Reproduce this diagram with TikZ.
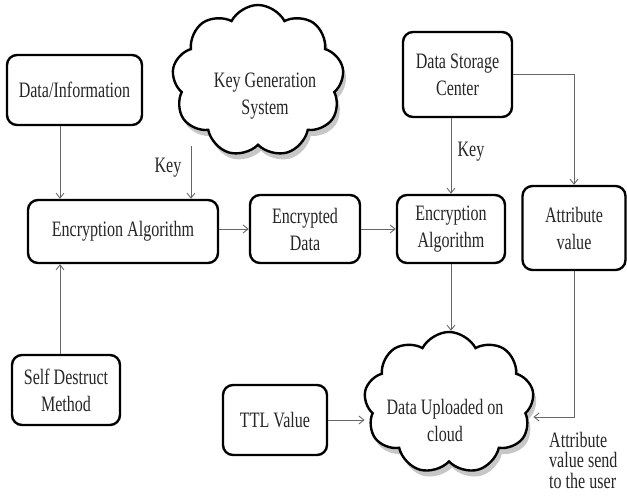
\documentclass[tikz,border=0pt]{standalone}
\usepackage{fontspec}
\setmainfont[FakeStretch=0.73]{Liberation Serif}
\usetikzlibrary{shapes.symbols,shadows,arrows.meta}
\begin{document}
\begin{tikzpicture}[x=1pt,y=-1pt,
  txt/.style={text=black!85, align=center, inner sep=0pt,
    font=\fontsize{22}{27}\selectfont},
  box/.style={txt, draw=black, line width=2.4pt, rounded corners=10pt, fill=white},
  puff/.style={cloud, cloud puffs=9, cloud puff arc=125, cloud ignores aspect,
    draw=black, line width=2.4pt, fill=white,
    drop shadow={shadow xshift=3pt, shadow yshift=-6pt, fill=black!22, opacity=1}},
  link/.style={draw=black!60, line width=0.9pt, -{Straight Barb[length=5pt,width=8pt]}},
  note/.style={txt, align=left, font=\fontsize{22}{20.5}\selectfont}
]
\useasboundingbox (0,0) rectangle (627,500);

% boxes
\node[box, minimum width=135pt, minimum height=70pt] (info) at (74.5,90) {Data/Information};
\node[box, minimum width=190pt, minimum height=63pt] (enc) at (123,231.5) {Encryption Algorithm};
\node[box, minimum width=108pt, minimum height=70pt] (self) at (66,390) {Self Destruct\\Method};
\node[box, minimum width=110pt, minimum height=68pt] (encdata) at (305,229) {Encrypted\\Data};
\node[box, minimum width=108pt, minimum height=68pt] (enc2) at (451,229) {Encryption\\Algorithm};
\node[box, minimum width=109pt, minimum height=85pt] (store) at (457.5,74.5) {Data Storage\\Center};
\node[box, minimum width=103pt, minimum height=84pt] (attr) at (574,228) {Attribute\\value};
\node[box, minimum width=104pt, minimum height=70pt] (ttl) at (275,420) {TTL Value};

% clouds
\node[puff, minimum width=172pt, minimum height=152pt] (keygen) at (258,81) {};
\node[txt] (keygentext) at (265,96) {Key Generation\\System};
\node[puff, minimum width=170pt, minimum height=142pt] (upload) at (449,403) {};
\node[txt] (uploadtext) at (445,420) {Data Uploaded on\\cloud};

% labels
\node[txt] (key1) at (168,168) {Key};
\node[txt] (key2) at (471,152) {Key};
\node[note, anchor=north west] (sendnote) at (549,432) {Attribute\\value send\\to the user};

% helper coordinates for the vertical links
\coordinate (leftx) at (60,0);
\coordinate (keyx) at (191,0);
\coordinate (attrturn) at (574,417);

% connectors
\draw[link] (info.south -| leftx) -- (enc.north -| leftx);
\draw[link] (self.north -| leftx) -- (enc.south -| leftx);
\draw[link] (keygen.south -| keyx) -- (enc.north -| keyx);
\draw[link] (enc.east |- encdata.west) -- (encdata.west);
\draw[link] (encdata.east) -- (enc2.west);
\draw[link] (store.south -| enc2.north) -- (enc2.north);
\draw[link] (store.east) -| (attr.north);
\draw[link] (enc2.south) -- (upload.north -| enc2.south);
\draw[link] (attr.south) -- (attrturn) -- (upload.east |- attrturn);
\draw[link] (ttl.east) -- (upload.west |- ttl.east);
\end{tikzpicture}
\end{document}
